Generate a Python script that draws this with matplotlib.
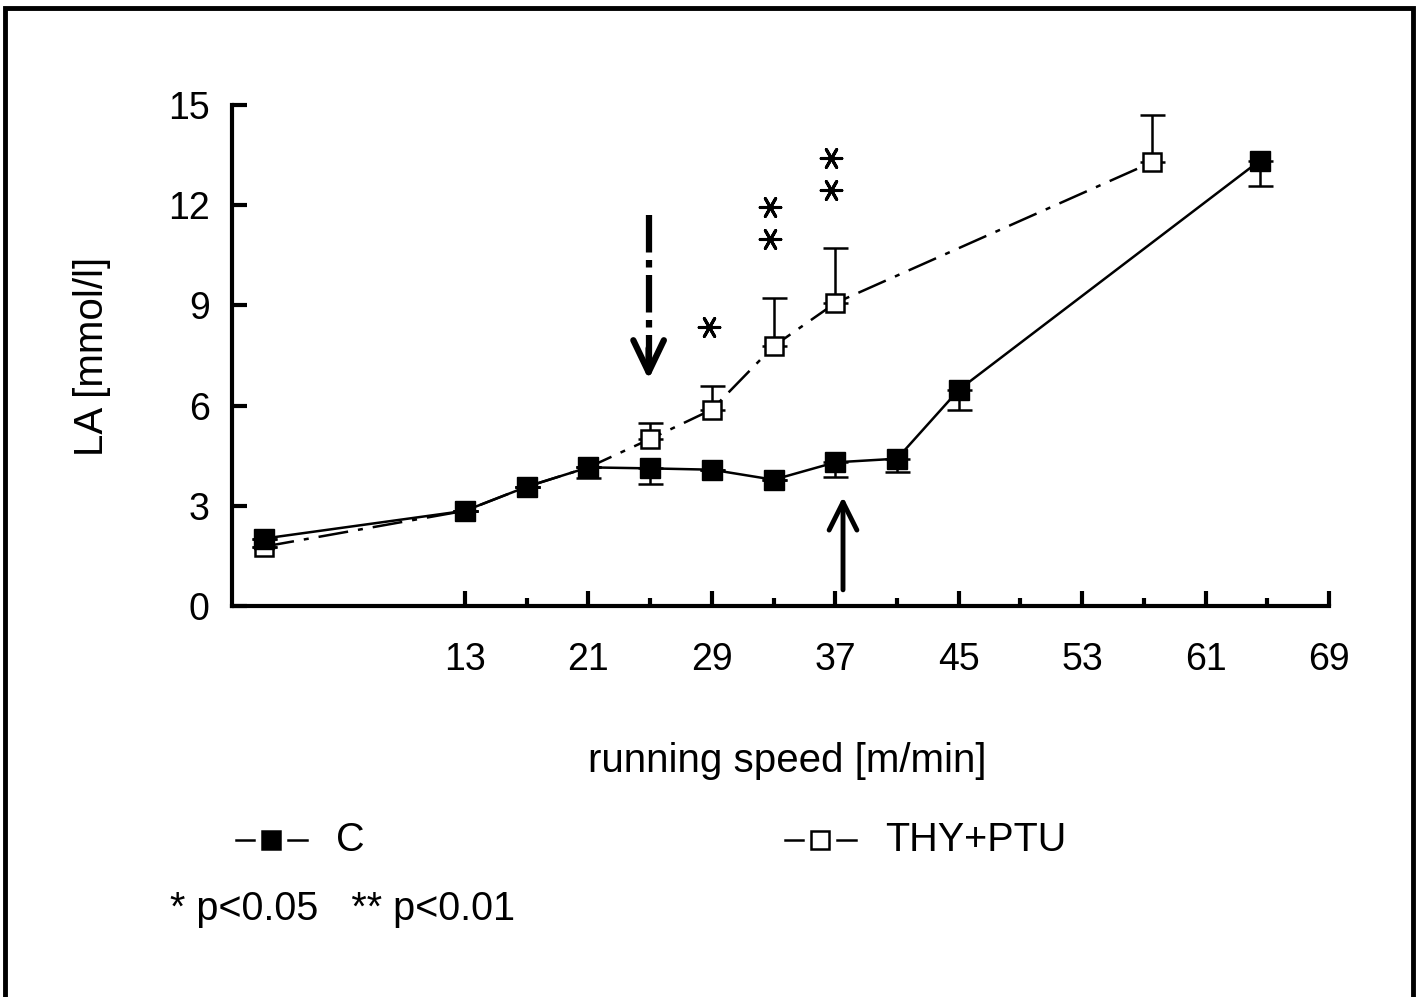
import matplotlib.pyplot as plt
from matplotlib.lines import Line2D
from matplotlib.patches import Rectangle

plt.rcParams['font.family'] = ['Liberation Sans', 'DejaVu Sans']

# running speed [m/min] and lactate [mmol/l]
speed_c = [0, 13, 17, 21, 25, 29, 33, 37, 41, 45, 64.5]
la_c = [2.02, 2.85, 3.57, 4.15, 4.12, 4.08, 3.78, 4.3, 4.41, 6.47, 13.33]
err_c = [0, 0, 0, 0.33, 0.46, 0, 0, 0.45, 0.4, 0.6, 0.75]   # drawn downward

speed_t = [0, 13, 17, 21, 25, 29, 33, 37, 57.5]
la_t = [1.78, 2.85, 3.57, 4.15, 5.0, 5.88, 7.78, 9.07, 13.28]
err_t = [0, 0, 0, 0, 0.47, 0.72, 1.43, 1.65, 1.42]         # drawn upward

star_x = [28.8, 32.8, 32.8, 36.7, 36.7]
star_y = [8.35, 11.95, 11.0, 13.4, 12.45]

x_ticks = [13, 21, 29, 37, 45, 53, 61, 69]
x_minor = [17, 25, 33, 41, 49, 57, 65]
y_ticks = [0, 3, 6, 9, 12, 15]

fig = plt.figure(figsize=(14.19, 9.97), dpi=100)
ax = fig.add_axes([0.1635, 0.3922, 0.7731, 0.5025])

# control group, solid line
ax.errorbar(speed_c, la_c, yerr=[err_c, [0] * len(err_c)], fmt='none',
            ecolor='black', elinewidth=1.8, capsize=9, capthick=1.8, zorder=4)
ax.plot(speed_c, la_c, '-', color='black', lw=1.8, marker='s', ms=14,
        mfc='black', mec='black', zorder=5)

# THY+PTU group, dash-dot line
ax.errorbar(speed_t, la_t, yerr=[[0] * len(err_t), err_t], fmt='none',
            ecolor='black', elinewidth=1.8, capsize=9, capthick=1.8, zorder=2)
ax.plot(speed_t, la_t, color='black', lw=1.8, dashes=(12, 4, 2, 4),
        marker='s', ms=13, mfc='white', mec='black', mew=1.8, zorder=3)

# significance stars
ax.scatter(star_x, star_y, marker=(6, 2, 90), s=220, color='black', lw=2.2, zorder=6)

# arrows
ax.plot([24.9, 24.9], [11.7, 7.3], color='black', lw=4.5, dashes=(6, 1.2, 1.2, 1.2),
        solid_capstyle='butt', zorder=6)
ax.annotate('', xy=(24.9, 6.7), xytext=(24.9, 7.8),
            arrowprops=dict(arrowstyle='->, head_length=1.15, head_width=0.55',
                            mutation_scale=20, lw=4.5, color='black'))
ax.annotate('', xy=(37.5, 3.35), xytext=(37.5, 0.4),
            arrowprops=dict(arrowstyle='->, head_length=1.0, head_width=0.5',
                            mutation_scale=20, lw=3.5, color='black'))

ax.set_xlim(-2.1, 69)
ax.set_ylim(0, 15)
ax.set_xticks(x_ticks)
ax.set_xticks(x_minor, minor=True)
ax.set_yticks(y_ticks)
ax.tick_params(axis='x', which='major', direction='in', length=11, width=3,
               labelsize=27, pad=26)
ax.tick_params(axis='x', which='minor', direction='in', length=6, width=3)
ax.tick_params(axis='y', direction='in', length=11, width=3, labelsize=27, pad=16)
ax.spines['top'].set_visible(False)
ax.spines['right'].set_visible(False)
ax.spines['left'].set_linewidth(3)
ax.spines['bottom'].set_linewidth(3)

fig.text(0.0648, 0.642, 'LA [mmol/l]', rotation=90, ha='center', va='center', fontsize=29)
fig.text(0.5545, 0.237, 'running speed [m/min]', ha='center', va='center', fontsize=29)

# legend
for x0, face in [(0.166, 'black'), (0.553, 'white')]:
    for a, b in [(x0, x0 + 0.013), (x0 + 0.037, x0 + 0.050)]:
        fig.add_artist(Line2D([a, b], [0.157, 0.157], transform=fig.transFigure,
                              color='black', lw=1.8))
    fig.add_artist(Line2D([x0 + 0.025], [0.157], transform=fig.transFigure,
                          marker='s', ms=13, mfc=face, mec='black', mew=1.8, ls='none'))
fig.text(0.237, 0.157, 'C', ha='left', va='center', fontsize=28.5)
fig.text(0.624, 0.157, 'THY+PTU', ha='left', va='center', fontsize=28.5)
fig.text(0.12, 0.088, '* p<0.05   ** p<0.01', ha='left', va='center', fontsize=28.5)

# outer frame
fig.add_artist(Rectangle((0.0035, -0.02), 0.9925, 1.012, transform=fig.transFigure,
                         fill=False, lw=3.5, ec='black'))

fig.savefig('out.png', dpi=100)
